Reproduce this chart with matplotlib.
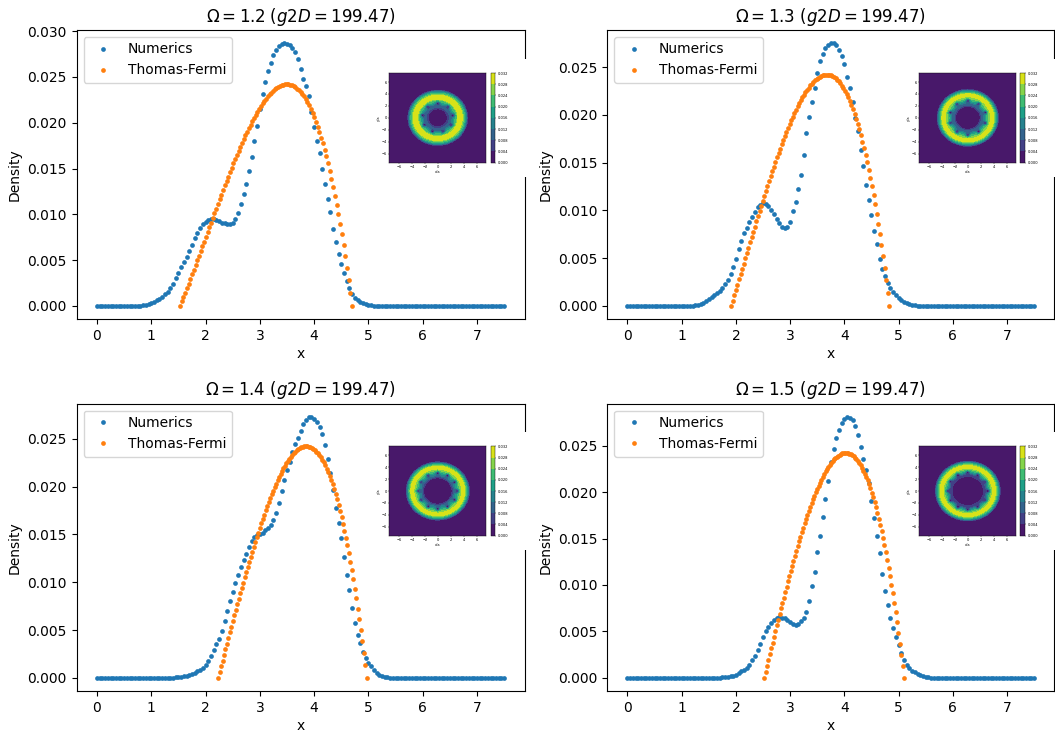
import numpy as np
import matplotlib
matplotlib.use("Agg")
import matplotlib.pyplot as plt
from matplotlib.patches import Rectangle

# ---------------- data ----------------
OMEGAS = [1.2, 1.3, 1.4, 1.5]
G2D = 199.47
X_STEP = 0.05          # numerics radial grid step, starting at x = 0

NUM_1 = [0.0] * 16 + [
    0.0000, 0.0001, 0.0001, 0.0002, 0.0003, 0.0004, 0.0006, 0.0008, 0.0010, 0.0013,
    0.0015, 0.0019, 0.0024, 0.0030, 0.0036, 0.0042, 0.0048, 0.0053, 0.0060, 0.0067,
    0.0074, 0.0080, 0.0085, 0.0089, 0.0092, 0.0094, 0.0095, 0.0095, 0.0094, 0.0093,
    0.0091, 0.0090, 0.0089, 0.0089, 0.0091, 0.0095, 0.0101, 0.0111, 0.0122, 0.0133,
    0.0147, 0.0163, 0.0180, 0.0196, 0.0215, 0.0231, 0.0244, 0.0256, 0.0265, 0.0274,
    0.0280, 0.0284, 0.0286, 0.0287, 0.0286, 0.0285, 0.0282, 0.0277, 0.0270, 0.0259,
    0.0248, 0.0240, 0.0229, 0.0212, 0.0195, 0.0180, 0.0167, 0.0150, 0.0133, 0.0117,
    0.0102, 0.0084, 0.0070, 0.0057, 0.0046, 0.0036, 0.0027, 0.0019, 0.0013, 0.0009,
    0.0006, 0.0004, 0.0003, 0.0002, 0.0001, 0.0001, 0.0000] + [0.0] * 48

NUM_2 = [0.0] * 24 + [
    0.0000, 0.0001, 0.0001, 0.0002, 0.0003, 0.0005, 0.0007, 0.0009, 0.0011, 0.0013,
    0.0016, 0.0019, 0.0023, 0.0027, 0.0033, 0.0041, 0.0049, 0.0059, 0.0068, 0.0076,
    0.0082, 0.0088, 0.0093, 0.0098, 0.0103, 0.0106, 0.0108, 0.0107, 0.0104, 0.0100,
    0.0096, 0.0091, 0.0087, 0.0083, 0.0082, 0.0083, 0.0088, 0.0099, 0.0109, 0.0122,
    0.0137, 0.0158, 0.0181, 0.0198, 0.0213, 0.0228, 0.0244, 0.0256, 0.0264, 0.0270,
    0.0273, 0.0275, 0.0275, 0.0273, 0.0268, 0.0262, 0.0253, 0.0240, 0.0228, 0.0213,
    0.0197, 0.0183, 0.0163, 0.0146, 0.0127, 0.0111, 0.0095, 0.0078, 0.0065, 0.0049,
    0.0039, 0.0031, 0.0024, 0.0019, 0.0014, 0.0011, 0.0008, 0.0006, 0.0004, 0.0003,
    0.0002, 0.0001, 0.0001, 0.0000] + [0.0] * 43

NUM_3 = [0.0] * 28 + [
    0.0000, 0.0001, 0.0001, 0.0001, 0.0002, 0.0002, 0.0003, 0.0004, 0.0005, 0.0007,
    0.0008, 0.0010, 0.0014, 0.0018, 0.0023, 0.0029, 0.0035, 0.0041, 0.0049, 0.0059,
    0.0070, 0.0080, 0.0090, 0.0099, 0.0108, 0.0116, 0.0123, 0.0130, 0.0137, 0.0143,
    0.0147, 0.0149, 0.0150, 0.0152, 0.0155, 0.0157, 0.0160, 0.0165, 0.0172, 0.0183,
    0.0195, 0.0207, 0.0217, 0.0226, 0.0236, 0.0244, 0.0251, 0.0258, 0.0265, 0.0270,
    0.0273, 0.0273, 0.0271, 0.0267, 0.0262, 0.0255, 0.0243, 0.0229, 0.0214, 0.0196,
    0.0178, 0.0162, 0.0146, 0.0126, 0.0108, 0.0092, 0.0073, 0.0057, 0.0045, 0.0036,
    0.0027, 0.0021, 0.0016, 0.0012, 0.0008, 0.0005, 0.0003, 0.0002, 0.0001, 0.0001,
    0.0000] + [0.0] * 42

NUM_4 = [0.0] * 34 + [
    0.0000, 0.0001, 0.0001, 0.0001, 0.0002, 0.0002, 0.0003, 0.0005, 0.0007, 0.0009,
    0.0011, 0.0014, 0.0019, 0.0024, 0.0030, 0.0037, 0.0044, 0.0050, 0.0055, 0.0059,
    0.0062, 0.0064, 0.0066, 0.0065, 0.0064, 0.0062, 0.0060, 0.0058, 0.0057, 0.0058,
    0.0061, 0.0065, 0.0071, 0.0083, 0.0099, 0.0114, 0.0135, 0.0153, 0.0173, 0.0193,
    0.0212, 0.0232, 0.0246, 0.0258, 0.0267, 0.0274, 0.0279, 0.0281, 0.0280, 0.0277,
    0.0271, 0.0261, 0.0248, 0.0236, 0.0224, 0.0210, 0.0190, 0.0172, 0.0153, 0.0134,
    0.0112, 0.0094, 0.0078, 0.0065, 0.0054, 0.0044, 0.0035, 0.0027, 0.0019, 0.0014,
    0.0011, 0.0008, 0.0006, 0.0004, 0.0003, 0.0002, 0.0001, 0.0001, 0.0000] + [0.0] * 38

# Thomas-Fermi profiles, density in units of 1e-5, evenly spaced between the edges
TF_SCALE = 1e-5
TF_EDGES = [(1.53, 4.70), (1.91, 4.83), (2.23, 4.97), (2.52, 5.10)]
TF_1 = [0, 48, 96, 145, 194, 244, 294, 344, 394, 445,
        496, 548, 599, 651, 702, 754, 806, 857, 909, 960,
        1012, 1063, 1114, 1165, 1215, 1265, 1315, 1364, 1413, 1461,
        1509, 1556, 1602, 1648, 1692, 1736, 1780, 1822, 1863, 1903,
        1942, 1981, 2017, 2053, 2088, 2120, 2152, 2182, 2211, 2238,
        2263, 2287, 2309, 2329, 2348, 2364, 2379, 2391, 2401, 2409,
        2415, 2419, 2420, 2419, 2415, 2409, 2400, 2388, 2374, 2356,
        2336, 2313, 2287, 2257, 2225, 2189, 2150, 2107, 2061, 2011,
        1958, 1901, 1839, 1775, 1706, 1633, 1556, 1475, 1390, 1300,
        1205, 1107, 1003, 895, 783, 665, 542, 414, 281, 143, 0]
TF_2 = [0, 55, 110, 165, 221, 276, 332, 388, 443, 499,
        555, 610, 665, 721, 776, 830, 885, 939, 993, 1047,
        1100, 1152, 1205, 1256, 1308, 1358, 1408, 1457, 1506, 1554,
        1600, 1647, 1692, 1736, 1780, 1822, 1863, 1904, 1943, 1981,
        2017, 2053, 2087, 2120, 2151, 2181, 2209, 2236, 2261, 2285,
        2307, 2327, 2345, 2361, 2376, 2389, 2399, 2408, 2414, 2418,
        2420, 2420, 2417, 2412, 2404, 2394, 2382, 2367, 2349, 2328,
        2305, 2279, 2250, 2218, 2183, 2144, 2103, 2059, 2011, 1960,
        1905, 1847, 1785, 1720, 1652, 1579, 1503, 1423, 1339, 1251,
        1159, 1062, 962, 857, 748, 635, 517, 395, 268, 136, 0]
TF_3 = [0, 60, 120, 180, 240, 299, 359, 418, 477, 536,
        595, 653, 711, 769, 826, 883, 939, 995, 1050, 1105,
        1159, 1213, 1266, 1318, 1370, 1420, 1470, 1519, 1568, 1615,
        1662, 1707, 1752, 1795, 1837, 1878, 1918, 1957, 1995, 2031,
        2066, 2099, 2131, 2162, 2191, 2219, 2245, 2269, 2292, 2313,
        2332, 2350, 2366, 2379, 2391, 2401, 2409, 2415, 2419, 2420,
        2419, 2416, 2411, 2404, 2394, 2381, 2366, 2349, 2329, 2306,
        2280, 2252, 2221, 2188, 2151, 2111, 2068, 2023, 1974, 1922,
        1867, 1808, 1746, 1681, 1612, 1540, 1465, 1385, 1302, 1216,
        1125, 1031, 933, 831, 724, 614, 500, 381, 259, 131, 0]
TF_4 = [0, 64, 128, 191, 254, 317, 380, 442, 504, 565,
        626, 687, 747, 806, 865, 924, 981, 1039, 1095, 1151,
        1206, 1260, 1314, 1366, 1418, 1469, 1519, 1568, 1616, 1663,
        1709, 1753, 1797, 1840, 1881, 1921, 1960, 1997, 2034, 2069,
        2102, 2134, 2164, 2194, 2221, 2247, 2271, 2294, 2314, 2333,
        2351, 2366, 2380, 2391, 2401, 2409, 2415, 2418, 2420, 2419,
        2417, 2412, 2404, 2395, 2383, 2368, 2352, 2332, 2311, 2286,
        2259, 2230, 2197, 2162, 2124, 2083, 2040, 1993, 1943, 1891,
        1835, 1776, 1714, 1649, 1581, 1509, 1434, 1355, 1273, 1187,
        1098, 1005, 909, 809, 705, 597, 486, 370, 251, 128, 0]

NUMERICS = [NUM_1, NUM_2, NUM_3, NUM_4]
THOMAS_FERMI = [TF_1, TF_2, TF_3, TF_4]

# inset (2D density) description
VORTEX_COUNT = [9, 10, 12, 12]
VORTEX_RADIUS = [2.4, 2.85, 3.0, 3.1]
RING_PEAK_BOOST = 1.12   # 2D density between vortices exceeds the azimuthal average
CBAR_TICKS = [0.000, 0.004, 0.008, 0.012, 0.016, 0.020, 0.024, 0.028, 0.032]
INSET_TICKS = [-6, -4, -2, 0, 2, 4, 6]

# ---------------- figure ----------------
BLUE = "#1f77b4"
ORANGE = "#ff7f0e"

fig = plt.figure(figsize=(10.55, 7.33), dpi=100)
positions = [
    [0.0726, 0.5648, 0.4246, 0.3943],
    [0.5755, 0.5648, 0.4240, 0.3943],
    [0.0726, 0.0573, 0.4246, 0.3920],
    [0.5755, 0.0573, 0.4240, 0.3920],
]

grid = np.linspace(-7.5, 7.5, 241)
GX, GY = np.meshgrid(grid, grid)
GR = np.hypot(GX, GY)

for k in range(4):
    ax = fig.add_axes(positions[k])
    num = np.array(NUMERICS[k])
    x_num = np.arange(len(num)) * X_STEP
    tf = np.array(THOMAS_FERMI[k]) * TF_SCALE
    x_tf = np.linspace(TF_EDGES[k][0], TF_EDGES[k][1], len(tf))

    ax.plot(x_num, num, "o", ls="none", ms=3.4, mew=0, color=BLUE, label="Numerics")
    ax.plot(x_tf, tf, "o", ls="none", ms=3.4, mew=0, color=ORANGE, label="Thomas-Fermi")
    ax.set_title(r"$\Omega = %s$ ($g2D = %.2f$)" % (OMEGAS[k], G2D), fontsize=12)
    ax.set_xlabel("x", labelpad=3)
    ax.set_ylabel("Density")
    ax.legend(loc="upper left", fontsize=10)
    ax.set_xticks(range(8))

    # white background of the pasted inset figure
    ax.add_patch(Rectangle((0.673, 0.49), 0.34, 0.41, transform=ax.transAxes,
                           facecolor="white", edgecolor="none", clip_on=False, zorder=3))

    # inset: 2D density with vortices
    base = np.maximum(np.interp(GR, x_num, num),
                      np.interp(GR, x_tf, tf, left=0.0, right=0.0)) * RING_PEAK_BOOST
    factor = np.ones_like(GR)
    nv = VORTEX_COUNT[k]
    rv = VORTEX_RADIUS[k]
    for j in range(nv):
        ang = 2 * np.pi * j / nv + np.pi / 2
        d2 = (GX - rv * np.cos(ang)) ** 2 + (GY - rv * np.sin(ang)) ** 2
        factor *= 1.0 - np.exp(-d2 / 0.33 ** 2)
    dens2d = np.clip(base * factor, 0, 0.0319)

    axi = ax.inset_axes([0.698, 0.541, 0.2165, 0.31])
    axi.set_zorder(5)
    cf = axi.contourf(GX, GY, dens2d, levels=CBAR_TICKS, cmap="viridis")
    axi.set_xlim(-7.5, 7.5)
    axi.set_ylim(-7.5, 7.5)
    axi.set_xticks(INSET_TICKS)
    axi.set_yticks(INSET_TICKS)
    axi.tick_params(labelsize=2.6, length=1, width=0.3, pad=0.8)
    axi.set_xlabel("x/a", fontsize=2.6, labelpad=0.8)
    axi.set_ylabel("y/a", fontsize=2.6, labelpad=0.8)
    for s in axi.spines.values():
        s.set_linewidth(0.3)

    cax = ax.inset_axes([0.924, 0.541, 0.0096, 0.31])
    cax.set_zorder(5)
    cb = fig.colorbar(cf, cax=cax, ticks=CBAR_TICKS)
    cb.ax.tick_params(labelsize=2.6, length=1, width=0.3, pad=0.8)
    cb.ax.set_yticklabels(["%.3f" % t for t in CBAR_TICKS])
    cb.outline.set_linewidth(0.3)

fig.savefig("out.png", dpi=100)
